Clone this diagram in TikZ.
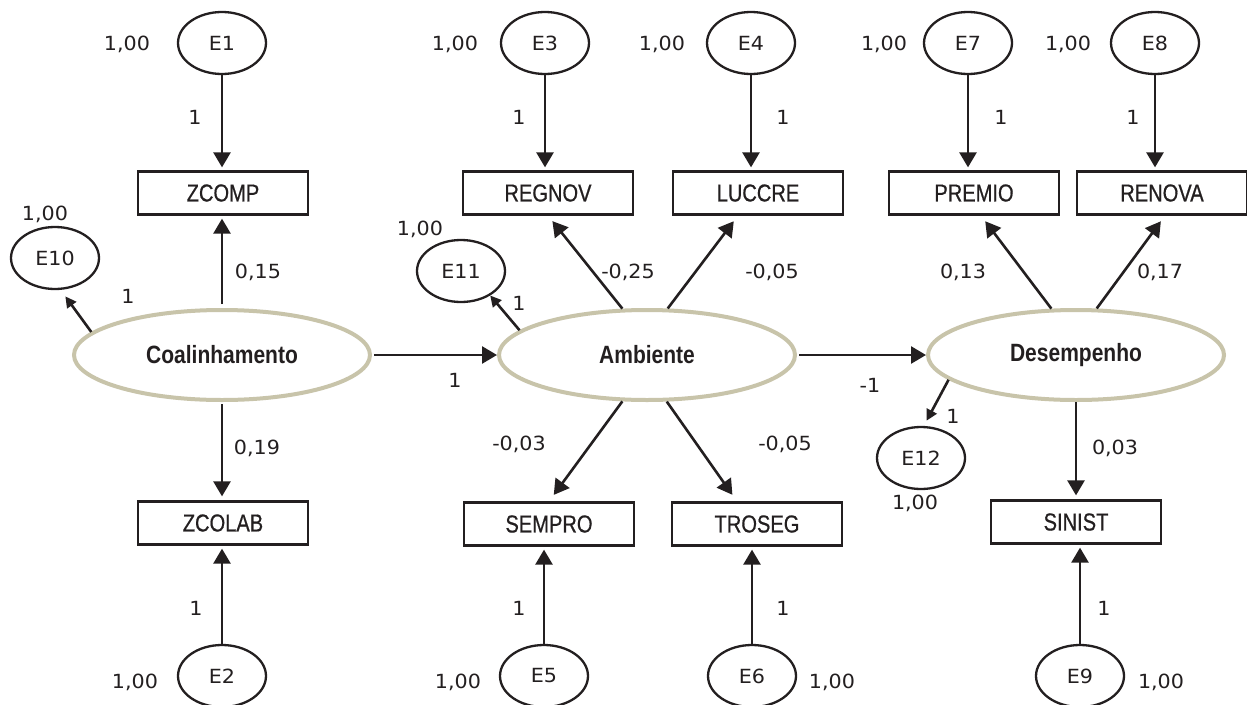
\documentclass[tikz,border=0pt]{standalone}
\usepackage{fontspec}
\usetikzlibrary{arrows.meta,calc,shapes.geometric}
\newfontfamily\numf[FakeStretch=1.06]{DejaVu Sans}
\newfontfamily\boxf[FakeStretch=0.82,FakeBold=0.6]{Liberation Sans}
\newfontfamily\latf[FakeStretch=0.84]{Liberation Sans}
\definecolor{ink}{RGB}{35,31,32}
\definecolor{beige}{RGB}{200,196,170}
\tikzset{
  err/.style={ellipse, draw=ink, line width=2.3pt, minimum width=88pt, minimum height=62pt, inner sep=0pt, text=ink, font=\numf\fontsize{19.5}{21}\selectfont},
  obs/.style={rectangle, draw=ink, line width=2.3pt, minimum width=170pt, minimum height=43pt, inner sep=0pt, text=ink, font=\boxf\fontsize{24.5}{26}\selectfont},
  lat/.style={ellipse, draw=beige, fill=white, line width=4pt, minimum width=296pt, minimum height=90pt, inner sep=0pt, text=ink, font=\latf\bfseries\fontsize{25}{27}\selectfont},
  num/.style={inner sep=0pt, text=ink, font=\numf\fontsize{19.5}{21}\selectfont},
  arr/.style={draw=ink, line width=2.6pt, -{Triangle[length=15pt,width=17pt]}},
  sarr/.style={draw=ink, line width=2.6pt, -{Triangle[length=11pt,width=11pt]}},
}
\begin{document}
\begin{tikzpicture}[x=1pt,y=-1pt]
\useasboundingbox (0,0) rectangle (1247,704);
\fill[white] (0,0) rectangle (1247,704);
% error terms
\node[err] (e1) at (222,43) {E1};
\node[err] (e3) at (545,43) {E3};
\node[err] (e4) at (751,43) {E4};
\node[err] (e7) at (968,43) {E7};
\node[err] (e8) at (1155,43) {E8};
\node[err] (e10) at (55,258) {E10};
\node[err] (e11) at (461,271) {E11};
\node[err] (e12) at (921,458) {E12};
\node[err] (e2) at (222,676) {E2};
\node[err] (e5) at (544,676) {E5};
\node[err] (e6) at (752,676) {E6};
\node[err] (e9) at (1080,676) {E9};
% observed
\node[obs] (zcomp) at (223,193) {ZCOMP};
\node[obs] (regnov) at (548,193) {REGNOV};
\node[obs] (luccre) at (758,193) {LUCCRE};
\node[obs] (premio) at (974,193) {PREMIO};
\node[obs] (renova) at (1162,193) {RENOVA};
\node[obs] (zcolab) at (223,523) {ZCOLAB};
\node[obs] (sempro) at (549,524) {SEMPRO};
\node[obs] (troseg) at (757,524) {TROSEG};
\node[obs] (sinist) at (1076,522) {SINIST};
% latent
\node[lat] (coal) at (222,355) {Coalinhamento};
\node[lat] (amb) at (647,355) {Ambiente};
\node[lat] (desemp) at (1076,355) {Desempenho};
% error arrows
\draw[arr, shorten >=3pt] (e1.south) -- (e1.south |- zcomp.north);
\draw[arr, shorten >=3pt] (e3.south) -- (e3.south |- regnov.north);
\draw[arr, shorten >=3pt] (e4.south) -- (e4.south |- luccre.north);
\draw[arr, shorten >=3pt] (e7.south) -- (e7.south |- premio.north);
\draw[arr, shorten >=3pt] (e8.south) -- (e8.south |- renova.north);
\draw[arr, shorten >=3pt] (e2.north) -- (e2.north |- zcolab.south);
\draw[arr, shorten >=3pt] (e5.north) -- (e5.north |- sempro.south);
\draw[arr, shorten >=3pt] (e6.north) -- (e6.north |- troseg.south);
\draw[arr, shorten >=3pt] (e9.north) -- (e9.north |- sinist.south);
% latent arrows
\draw[arr, shorten <=4pt, shorten >=3pt] (coal.north) -- (coal.north |- zcomp.south);
\draw[arr, shorten <=2pt, shorten >=4pt] (coal.south) -- (coal.south |- zcolab.north);
\draw[sarr, shorten >=8pt] (coal.170) -- (e10.-80);
\draw[arr, shorten <=2pt] (coal.east) -- (amb.west);
\draw[sarr] (amb.169) -- (e11.-40);
\draw[arr, shorten >=7pt] (amb.118) -- (regnov.south);
\draw[arr, shorten >=7pt] (amb.66) -- ($(luccre.south)+(-20,0)$);
\draw[arr, shorten >=8pt] (amb.242) -- (sempro.north);
\draw[arr, shorten >=8pt] (amb.293) -- ($(troseg.north)+(-20,0)$);
\draw[arr, shorten <=2pt] (amb.east) -- (desemp.west);
\draw[arr, shorten >=7pt] (desemp.118) -- ($(premio.south)+(7,0)$);
\draw[arr, shorten >=7pt] (desemp.66) -- ($(renova.south)+(3,0)$);
\draw[sarr, shorten >=6pt] (desemp.191) -- (e12.85);
\draw[arr, shorten >=4pt] (desemp.south) -- (desemp.south |- sinist.north);
% variance labels
\node[num] (v1) at (127,44) {1,00};
\node[num] (v3) at (455,44) {1,00};
\node[num] (v4) at (662,44) {1,00};
\node[num] (v7) at (884,44) {1,00};
\node[num] (v8) at (1068,44) {1,00};
\node[num] (v10) at (45,214) {1,00};
\node[num] (v11) at (420,229) {1,00};
\node[num] (v12) at (915,503) {1,00};
\node[num] (v2) at (135,682) {1,00};
\node[num] (v5) at (458,682) {1,00};
\node[num] (v6) at (832,682) {1,00};
\node[num] (v9) at (1161,682) {1,00};
% path labels
\node[num] (p1) at (195,117) {1};
\node[num] (p3) at (519,117) {1};
\node[num] (p4) at (783,117) {1};
\node[num] (p7) at (1001,117) {1};
\node[num] (p8) at (1133,117) {1};
\node[num] (p10) at (128,296) {1};
\node[num] (p11) at (519,303) {1};
\node[num] (pca) at (455,380) {1};
\node[num] (p12) at (953,416) {1};
\node[num] (p2) at (196,608) {1};
\node[num] (p5) at (519,608) {1};
\node[num] (p6) at (783,608) {1};
\node[num] (p9) at (1104,608) {1};
\node[num] (c1) at (258,272) {0,15};
\node[num] (c2) at (257,448) {0,19};
\node[num] (c3) at (628,272) {-0,25};
\node[num] (c4) at (772,272) {-0,05};
\node[num] (c5) at (519,444) {-0,03};
\node[num] (c6) at (785,444) {-0,05};
\node[num] (c7) at (870,385) {-1};
\node[num] (c8) at (963,272) {0,13};
\node[num] (c9) at (1160,272) {0,17};
\node[num] (c10) at (1115,448) {0,03};
\end{tikzpicture}
\end{document}
